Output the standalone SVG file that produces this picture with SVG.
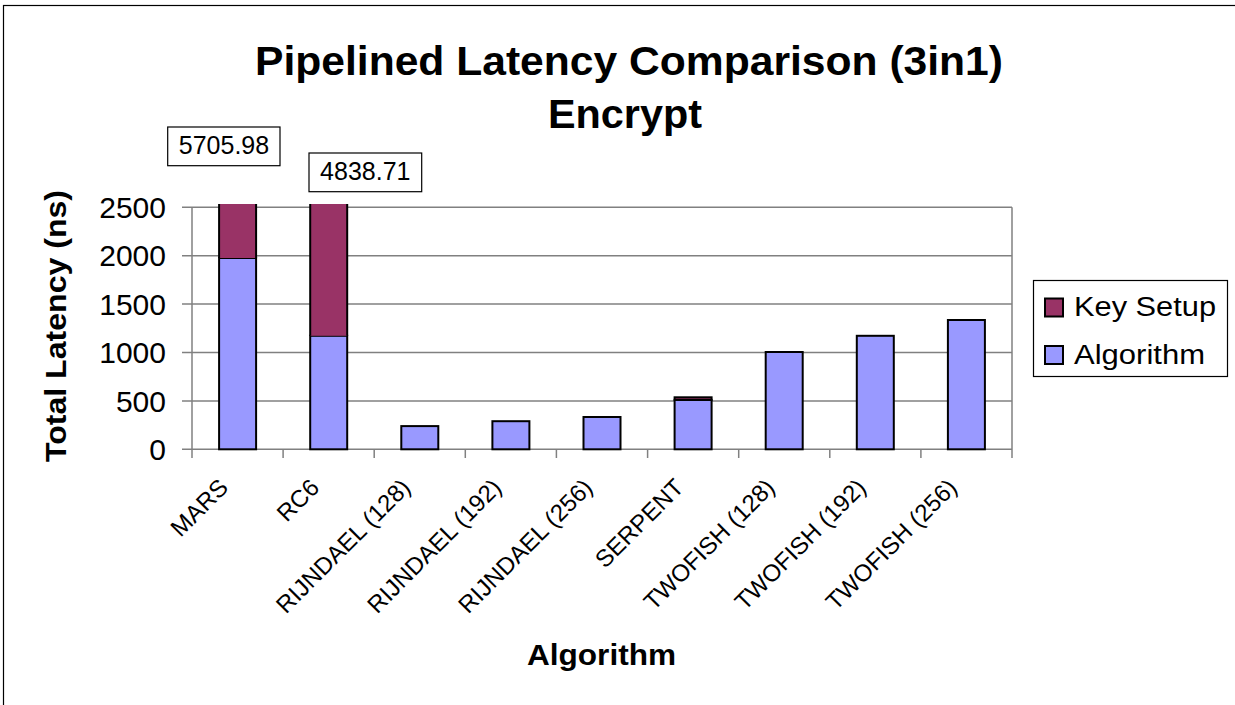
<svg xmlns="http://www.w3.org/2000/svg" width="1235" height="705" viewBox="0 0 1235 705">
  <style>
    text { font-family: "Liberation Sans", Arial, sans-serif; fill: #000; }
    .title { font-size: 40px; font-weight: bold; text-anchor: middle; }
    .axtitle { font-size: 30px; font-weight: bold; text-anchor: middle; }
    .ytick { font-size: 30px; text-anchor: end; }
    .xtick { font-size: 24px; text-anchor: end; }
    .legend { font-size: 27px; }
    .value { font-size: 25px; text-anchor: middle; }
    .grid { stroke: #808080; stroke-width: 1.5; fill: none; }
    .alg { fill: #9999FF; stroke: #000; stroke-width: 2; }
    .key { fill: #993366; stroke: #000; stroke-width: 2; }
    .keyfill { fill: #993366; stroke: none; }
    .edge { stroke: #000; stroke-width: 2; fill: none; }
    .box { fill: #fff; stroke: #000; stroke-width: 1.2; }
  </style>

  <!-- chart area frame -->
  <rect x="3.5" y="5.5" width="1240" height="710" fill="#fff" stroke="#000" stroke-width="1.2"/>

  <!-- titles -->
  <text class="title" x="629" y="75" textLength="748" lengthAdjust="spacingAndGlyphs">Pipelined Latency Comparison (3in1)</text>
  <text class="title" x="625" y="128" textLength="154" lengthAdjust="spacingAndGlyphs">Encrypt</text>

  <!-- plot area: gridlines, axes, ticks -->
  <g id="axes">
    <line class="grid" x1="182" y1="207.3" x2="1012" y2="207.3"/>
    <line class="grid" x1="182" y1="255.7" x2="1012" y2="255.7"/>
    <line class="grid" x1="182" y1="304.1" x2="1012" y2="304.1"/>
    <line class="grid" x1="182" y1="352.5" x2="1012" y2="352.5"/>
    <line class="grid" x1="182" y1="400.9" x2="1012" y2="400.9"/>
    <line class="grid" x1="182" y1="449.3" x2="1012" y2="449.3"/>
    <line class="grid" x1="192" y1="207.3" x2="192" y2="458"/>
    <line class="grid" x1="1012" y1="207.3" x2="1012" y2="458"/>
    <line class="grid" x1="283.1" y1="449.3" x2="283.1" y2="458"/>
    <line class="grid" x1="374.2" y1="449.3" x2="374.2" y2="458"/>
    <line class="grid" x1="465.3" y1="449.3" x2="465.3" y2="458"/>
    <line class="grid" x1="556.4" y1="449.3" x2="556.4" y2="458"/>
    <line class="grid" x1="647.6" y1="449.3" x2="647.6" y2="458"/>
    <line class="grid" x1="738.7" y1="449.3" x2="738.7" y2="458"/>
    <line class="grid" x1="829.8" y1="449.3" x2="829.8" y2="458"/>
    <line class="grid" x1="920.9" y1="449.3" x2="920.9" y2="458"/>
  </g>

  <!-- y tick labels -->
  <g id="y-labels">
    <text class="ytick" x="166" y="218">2500</text>
    <text class="ytick" x="166" y="266.4">2000</text>
    <text class="ytick" x="166" y="314.8">1500</text>
    <text class="ytick" x="166" y="363.2">1000</text>
    <text class="ytick" x="166" y="411.6">500</text>
    <text class="ytick" x="166" y="460">0</text>
  </g>
  <text class="axtitle" transform="translate(66,326) rotate(-90)" textLength="272" lengthAdjust="spacingAndGlyphs">Total Latency (ns)</text>

  <!-- stacked bars (clipped ones stay open at the top) -->
  <g id="bar-mars">
    <rect class="alg" x="219.1" y="258" width="37" height="191.3"/>
    <rect class="keyfill" x="219.1" y="204" width="37" height="54"/>
    <path class="edge" d="M219.1,204 V258 M256.1,204 V258"/>
  </g>
  <g id="bar-rc6">
    <rect class="alg" x="310.2" y="335.8" width="37" height="113.5"/>
    <rect class="keyfill" x="310.2" y="204" width="37" height="131.8"/>
    <path class="edge" d="M310.2,204 V335.8 M347.2,204 V335.8"/>
  </g>
  <g id="bar-rijndael-128">
    <rect class="alg" x="401.3" y="426.1" width="37" height="23.2"/>
  </g>
  <g id="bar-rijndael-192">
    <rect class="alg" x="492.4" y="421.2" width="37" height="28.1"/>
  </g>
  <g id="bar-rijndael-256">
    <rect class="alg" x="583.5" y="417" width="37" height="32.3"/>
  </g>
  <g id="bar-serpent">
    <rect class="alg" x="674.6" y="399.9" width="37" height="49.4"/>
    <rect class="key" x="674.6" y="397.3" width="37" height="2.6" fill="#000"/>
  </g>
  <g id="bar-twofish-128">
    <rect class="alg" x="765.7" y="352" width="37" height="97.3"/>
  </g>
  <g id="bar-twofish-192">
    <rect class="alg" x="856.8" y="335.8" width="37" height="113.5"/>
  </g>
  <g id="bar-twofish-256">
    <rect class="alg" x="947.9" y="320" width="37" height="129.3"/>
  </g>

  <!-- totals of the clipped bars -->
  <g id="label-mars">
    <rect class="box" x="167.7" y="127" width="112.3" height="38.7"/>
    <text class="value" x="224" y="154">5705.98</text>
  </g>
  <g id="label-rc6">
    <rect class="box" x="309" y="153" width="112.7" height="38.7"/>
    <text class="value" x="365.3" y="180">4838.71</text>
  </g>

  <!-- category labels -->
  <g id="x-labels">
    <text class="xtick" transform="translate(229.6,489) rotate(-45)">MARS</text>
    <text class="xtick" transform="translate(320.7,489) rotate(-45)">RC6</text>
    <text class="xtick" transform="translate(411.8,489) rotate(-45)">RIJNDAEL (128)</text>
    <text class="xtick" transform="translate(502.9,489) rotate(-45)">RIJNDAEL (192)</text>
    <text class="xtick" transform="translate(594,489) rotate(-45)">RIJNDAEL (256)</text>
    <text class="xtick" transform="translate(685.1,489) rotate(-45)">SERPENT</text>
    <text class="xtick" transform="translate(776.2,489) rotate(-45)">TWOFISH (128)</text>
    <text class="xtick" transform="translate(867.3,489) rotate(-45)">TWOFISH (192)</text>
    <text class="xtick" transform="translate(958.4,489) rotate(-45)">TWOFISH (256)</text>
  </g>
  <text class="axtitle" x="601.5" y="665" textLength="149" lengthAdjust="spacingAndGlyphs">Algorithm</text>

  <!-- legend -->
  <g id="legend">
    <rect x="1033.5" y="280.5" width="194" height="96" fill="#fff" stroke="#000" stroke-width="1.2"/>
    <rect class="key" x="1045" y="298.5" width="18" height="18"/>
    <text class="legend" x="1074" y="316" textLength="142" lengthAdjust="spacingAndGlyphs">Key Setup</text>
    <rect class="alg" x="1045" y="346" width="18" height="18"/>
    <text class="legend" x="1074" y="364" textLength="131" lengthAdjust="spacingAndGlyphs">Algorithm</text>
  </g>
</svg>
